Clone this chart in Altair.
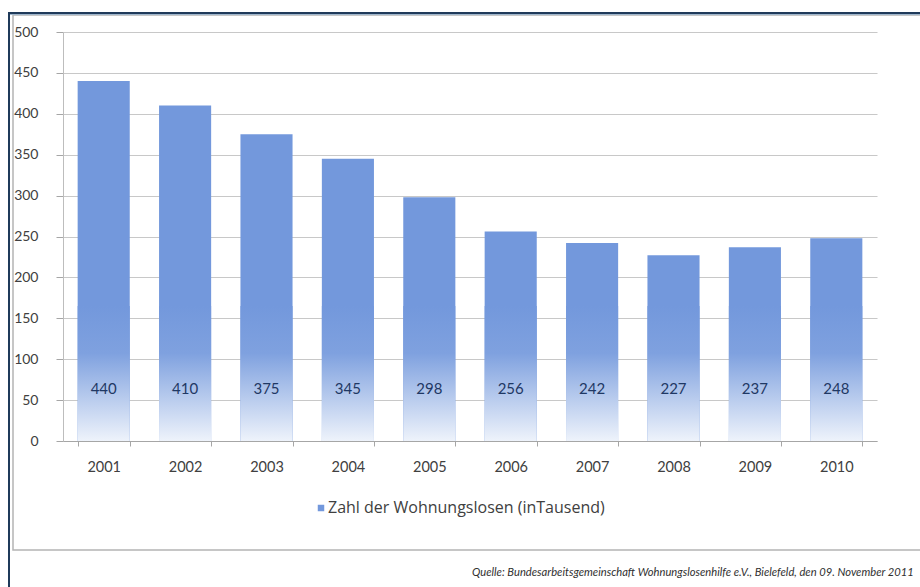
import altair as alt
import pandas as pd

years = ["2001", "2002", "2003", "2004", "2005", "2006", "2007", "2008", "2009", "2010"]
values = [440, 410, 375, 345, 298, 256, 242, 227, 237, 248]
y_ticks = [0, 50, 100, 150, 200, 250, 300, 350, 400, 450, 500]
legend_label = ["Zahl der Wohnungslosen (inTausend)"]
source_text = ["Quelle: Bundesarbeitsgemeinschaft Wohnungslosenhilfe e.V.,  Bielefeld, den 09. November 2011"]

df = pd.DataFrame({"Jahr": years, "Wert": values})
FONT = "Lato"

x_enc = alt.X(
    "Jahr:N",
    title=None,
    scale=alt.Scale(paddingInner=0.36, paddingOuter=0.18),
    axis=alt.Axis(
        labelAngle=0,
        labelFont=FONT,
        labelFontSize=14.5,
        labelColor="#404040",
        labelPadding=14,
        domainColor="#a6a6a6",
        tickColor="#a6a6a6",
        tickSize=5,
        tickBand="extent",
        grid=False,
        zindex=1,
    ),
)
y_enc = alt.Y(
    "Wert:Q",
    title=None,
    scale=alt.Scale(domain=[0, 500], nice=False),
    axis=alt.Axis(
        values=y_ticks,
        labelFont=FONT,
        labelFontSize=14,
        labelColor="#404040",
        labelPadding=18,
        domainColor="#bdbdbd",
        tickColor="#a6a6a6",
        tickSize=7,
        gridColor="#c8c8c8",
        gridWidth=1.2,
        zindex=0,
    ),
)

base = alt.Chart(df)

bars = base.mark_bar(color="#7398dc").encode(x=x_enc, y=y_enc)

fade = base.mark_bar(
    color=alt.Gradient(
        gradient="linear",
        x1=0, x2=0, y1=0, y2=1,
        stops=[
            alt.GradientStop(offset=0, color="#7398dc"),
            alt.GradientStop(offset=0.35, color="#7fa1df"),
            alt.GradientStop(offset=1, color="#eef3fb"),
        ],
    )
).encode(x=x_enc, y=alt.datum(165), y2=alt.datum(0))

labels = base.mark_text(
    font=FONT, fontSize=15, color="#1f3864", baseline="middle", align="center"
).encode(x=x_enc, y=alt.datum(63), text="Wert:Q")

legend_df = pd.DataFrame({"label": legend_label})
legend_sq = alt.Chart(legend_df).mark_square(size=42, color="#7398dc", opacity=1).encode(
    x=alt.value(258), y=alt.value(476)
)
legend_txt = alt.Chart(legend_df).mark_text(
    font="Open Sans", fontSize=16, color="#404040", align="left", baseline="middle"
).encode(x=alt.value(265), y=alt.value(476), text="label:N")

src_df = pd.DataFrame({"label": source_text})
source = alt.Chart(src_df).mark_text(
    font=FONT, fontSize=11.2, fontStyle="italic", color="#303030", align="left", baseline="middle"
).encode(x=alt.value(409), y=alt.value(541), text="label:N")

frame_df = pd.DataFrame({"k": [0]})
inner_box = alt.Chart(frame_df).mark_rect(
    fillOpacity=0, stroke="#b4b4b4", strokeWidth=1.5
).encode(x=alt.value(-50), x2=alt.value(880), y=alt.value(-17), y2=alt.value(518))
outer_left = alt.Chart(frame_df).mark_rect(color="#1f3a5a").encode(
    x=alt.value(-55), x2=alt.value(-53), y=alt.value(-20), y2=alt.value(560)
)
outer_top = alt.Chart(frame_df).mark_rect(color="#1f3a5a").encode(
    x=alt.value(-55), x2=alt.value(880), y=alt.value(-20), y2=alt.value(-18)
)
outer_top2 = alt.Chart(frame_df).mark_rect(color="#9fb6cc").encode(
    x=alt.value(-53), x2=alt.value(880), y=alt.value(-18), y2=alt.value(-17)
)

chart = alt.layer(
    bars, fade, labels, legend_sq, legend_txt, source,
    inner_box, outer_left, outer_top, outer_top2,
).properties(
    width=814,
    height=409,
    autosize=alt.AutoSizeParams(type="none"),
    padding={"left": 63, "top": 32, "right": 43, "bottom": 146},
    background="white",
).configure_view(stroke=None)

chart.save("out.html", embed_options={"renderer": "svg", "actions": False})
